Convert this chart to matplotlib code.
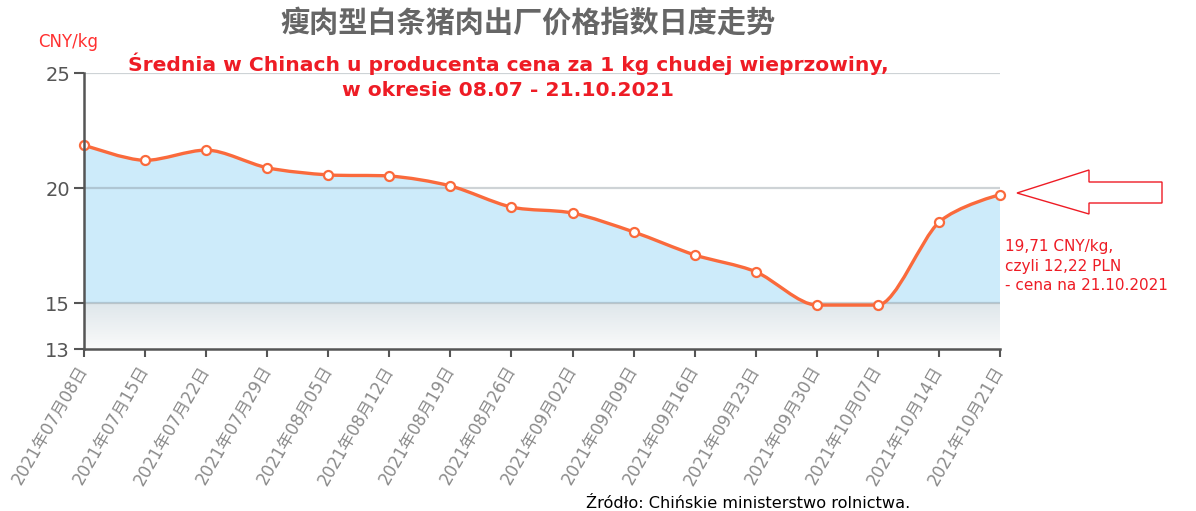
import numpy as np
import matplotlib
matplotlib.use("Agg")
import matplotlib.pyplot as plt
from matplotlib.path import Path
from matplotlib.patches import PathPatch, Polygon

# ---- data ----
dates = ["2021年07月08日", "2021年07月15日", "2021年07月22日", "2021年07月29日",
         "2021年08月05日", "2021年08月12日", "2021年08月19日", "2021年08月26日",
         "2021年09月02日", "2021年09月09日", "2021年09月16日", "2021年09月23日",
         "2021年09月30日", "2021年10月07日", "2021年10月14日", "2021年10月21日"]
prices = [21.87, 21.20, 21.65, 20.88, 20.57, 20.52, 20.09, 19.17,
          18.91, 18.09, 17.09, 16.36, 14.91, 14.91, 18.51, 19.71]
y_ticks = [13, 15, 20, 25]

title = "瘦肉型白条猪肉出厂价格指数日度走势"
subtitle = "Średnia w Chinach u producenta cena za 1 kg chudej wieprzowiny,\nw okresie 08.07 - 21.10.2021"
unit = "CNY/kg"
note = "19,71 CNY/kg,\nczyli 12,22 PLN\n- cena na 21.10.2021"
source = "Źródło: Chińskie ministerstwo rolnictwa."

LINE = "#fa6a3c"
RED = "#ee1c25"
FILL = "#cdebfa"

def spline_path(xs, ys, sm=2.4):
    """Smooth spline (Highcharts-like control points) as Bezier path."""
    n = len(xs)
    den = sm + 1
    left = [(xs[i], ys[i]) for i in range(n)]
    right = [(xs[i], ys[i]) for i in range(n)]
    for i in range(1, n - 1):
        px, py = xs[i], ys[i]
        lx, ly = xs[i - 1], ys[i - 1]
        nx, ny = xs[i + 1], ys[i + 1]
        lcx = (sm * px + lx) / den
        lcy = (sm * py + ly) / den
        rcx = (sm * px + nx) / den
        rcy = (sm * py + ny) / den
        if rcx != lcx:
            corr = ((rcy - lcy) * (rcx - px)) / (rcx - lcx) + py - rcy
            lcy += corr
            rcy += corr
        if lcy > ly and lcy > py:
            lcy = max(ly, py); rcy = 2 * py - lcy
        elif lcy < ly and lcy < py:
            lcy = min(ly, py); rcy = 2 * py - lcy
        if rcy > ny and rcy > py:
            rcy = max(ny, py); lcy = 2 * py - rcy
        elif rcy < ny and rcy < py:
            rcy = min(ny, py); lcy = 2 * py - rcy
        left[i] = (lcx, lcy)
        right[i] = (rcx, rcy)
    verts = [(xs[0], ys[0])]
    codes = [Path.MOVETO]
    for i in range(1, n):
        verts += [right[i - 1], left[i], (xs[i], ys[i])]
        codes += [Path.CURVE4] * 3
    return verts, codes

fig = plt.figure(figsize=(11.96, 5.11), dpi=100)
ax = fig.add_axes([84 / 1196, 1 - 349 / 511, 916 / 1196, 276 / 511])

x = np.arange(len(dates))
verts, codes = spline_path(list(x.astype(float)), prices)

# area fill
ymin = y_ticks[0]
fverts = verts + [(x[-1], ymin), (x[0], ymin), (x[0], ymin)]
fcodes = codes + [Path.LINETO, Path.LINETO, Path.CLOSEPOLY]
ax.add_patch(PathPatch(Path(fverts, fcodes), facecolor=FILL, edgecolor="none", zorder=1))

# gradient band 13-15 (grey at top, white at bottom)
grad = np.linspace(0, 1, 100).reshape(-1, 1)
top = np.array([223, 231, 235]) / 255
bot = np.array([250, 250, 250]) / 255
img = top[None, None, :] * (1 - grad[:, :, None]) + bot[None, None, :] * grad[:, :, None]
ax.imshow(img, extent=[x[0], x[-1], 13, 15], aspect="auto", zorder=2, origin="upper")

# grid lines
for yv in [15, 20, 25]:
    ax.axhline(yv, color=(0.5, 0.55, 0.58), alpha=0.38, lw=1.6, zorder=3)

# line
ax.add_patch(PathPatch(Path(verts, codes), facecolor="none", edgecolor=LINE, lw=2.4, zorder=4,
                       capstyle="round", joinstyle="round"))
ax.plot(x, prices, linestyle="none", marker="o", ms=6.5, mfc="white", mec=LINE, mew=1.6, zorder=5,
        clip_on=False)

ax.set_xlim(x[0], x[-1])
ax.set_ylim(13, 25)
ax.set_yticks(y_ticks)
ax.set_xticks(x)
ax.set_xticklabels(dates, rotation=60, ha="right", va="center", rotation_mode="anchor",
                   family=["DejaVu Sans", "Noto Sans CJK SC"], fontsize=12, color="#8a8a8a")
ax.tick_params(axis="y", labelsize=14, colors="#555555", length=7, width=1.5, direction="out", pad=3)
ax.tick_params(axis="x", colors="#555555", length=6, width=1.5, direction="out", pad=7)
for lab in ax.get_xticklabels():
    lab.set_color("#8a8a8a")
for lab in ax.get_yticklabels():
    lab.set_color("#555555")
for s in ["top", "right"]:
    ax.spines[s].set_visible(False)
for s in ["left", "bottom"]:
    ax.spines[s].set_color("#555555")
    ax.spines[s].set_linewidth(1.8)
    ax.spines[s].set_zorder(6)
ax.set_facecolor("white")

# texts
fig.text(528 / 1196, 1 - 23 / 511, title, family=["Noto Sans CJK SC"], fontweight="bold",
         fontsize=21, color="#666666", ha="center", va="center")
fig.text(508 / 1196, 1 - 76 / 511, subtitle, family=["DejaVu Sans"], fontweight="bold",
         fontsize=14.6, color=RED, ha="center", va="center", linespacing=1.38)
fig.text(38 / 1196, 1 - 42 / 511, unit, fontsize=12, color="#ff3030", ha="left", va="center")
fig.text(1005 / 1196, 1 - 266 / 511, note, fontsize=11, color=RED, ha="left", va="center",
         linespacing=1.4)
fig.text(586 / 1196, 1 - 503 / 511, source, fontsize=11.6, color="black", ha="left", va="center")

# hollow arrow
arrow_px = [(1017, 193), (1089, 170), (1089, 182), (1162, 182), (1162, 203), (1089, 203), (1089, 214)]
arrow = [(px / 1196, 1 - py / 511) for px, py in arrow_px]
fig.patches.append(Polygon(arrow, closed=True, transform=fig.transFigure, facecolor="none",
                           edgecolor=RED, lw=1.0))

fig.savefig("out.png", dpi=100, facecolor="white")
